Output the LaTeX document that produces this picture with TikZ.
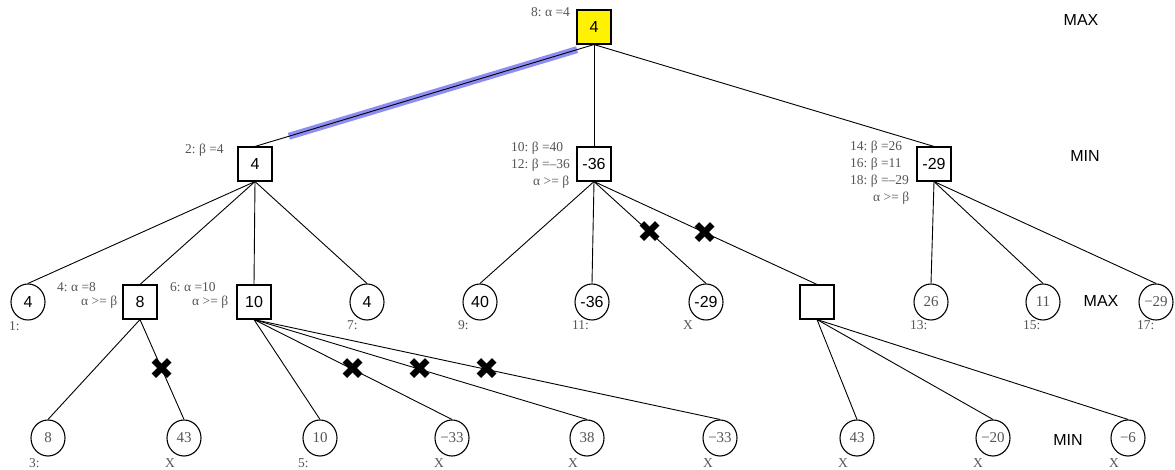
\documentclass[tikz,border=0pt]{standalone}
\usepackage{fontspec}
\setmainfont{Liberation Serif}
\newfontfamily\sansf{Liberation Sans}
\newfontfamily\symf{DejaVu Sans}
\usetikzlibrary{shapes.geometric}
\definecolor{labgray}{HTML}{555555}
\definecolor{hlblue}{HTML}{7070F0}
\begin{document}
\begin{tikzpicture}[x=1pt,y=-1pt,
  boxn/.style={draw, line width=1.1pt, minimum size=34pt, inner sep=0pt, font=\sansf\fontsize{16}{18}\selectfont},
  circs/.style={draw, ellipse, line width=1.1pt, minimum width=34pt, minimum height=36pt, inner sep=0pt, font=\sansf\fontsize{16}{18}\selectfont},
  circr/.style={circs, text=labgray, font=\fontsize{15}{17}\selectfont},
  lbl/.style={anchor=west, inner sep=0pt, text=labgray, font=\fontsize{13.5}{15}\selectfont},
  lvl/.style={inner sep=0pt, font=\sansf\fontsize{16}{18}\selectfont},
  edge/.style={line width=0.9pt},
  hl/.style={line width=7pt, draw=hlblue, opacity=0.8},
  cut/.style={inner sep=0pt, font=\symf\fontsize{30}{30}\selectfont}
]
\useasboundingbox (0,0) rectangle (1175,470);
% level labels
\node[lvl] (t0) at (1081,20) {MAX};
\node[lvl] (t1) at (1085,156) {MIN};
\node[lvl] (t2) at (1101,301) {MAX};
\node[lvl] (t3) at (1068,440) {MIN};
% nodes
\node[boxn, fill=yellow] (root) at (594,27) {4};
\node[boxn] (n2) at (255,164) {4};
\node[boxn] (n10) at (594,164) {-36};
\node[boxn] (n14) at (934,164) {-29};
\node[circs] (c1) at (28,302) {4};
\node[boxn] (b4) at (140,302) {8};
\node[boxn] (b6) at (254,302) {10};
\node[circs] (c7) at (367,302) {4};
\node[circs] (c9) at (480,302) {40};
\node[circs] (c11) at (592,302) {-36};
\node[circs] (cX) at (706,302) {-29};
\node[boxn] (bE) at (817,302) {};
\node[circr] (c13) at (931,302) {26};
\node[circr] (c15) at (1043,302) {11};
\node[circr] (c17) at (1156,302) {−29};
\node[circr] (l3) at (48,438) {8};
\node[circr] (l43a) at (184,438) {43};
\node[circr] (l5) at (320,438) {10};
\node[circr] (l33a) at (452,438) {−33};
\node[circr] (l38) at (587,438) {38};
\node[circr] (l33b) at (720,438) {−33};
\node[circr] (l43b) at (857,438) {43};
\node[circr] (l20) at (993,438) {−20};
\node[circr] (l6) at (1128,438) {−6};
% highlight
\path (root.south) -- coordinate[pos=0.05] (hb1) coordinate[pos=0.9] (hb2) (n2.north);
\draw[hl] (hb1) -- (hb2);
% edges
\draw[edge] (root.south) -- (n2.north);
\draw[edge] (root.south) -- (n10.north);
\draw[edge] (root.south) -- (n14.north);
\draw[edge] (n2.south) -- (c1.north);
\draw[edge] (n2.south) -- (b4.north);
\draw[edge] (n2.south) -- (b6.north);
\draw[edge] (n2.south) -- (c7.north);
\draw[edge] (n10.south) -- (c9.north);
\draw[edge] (n10.south) -- (c11.north);
\draw[edge] (n10.south) -- node[cut] (x1) {✖} (cX.north);
\draw[edge] (n10.south) -- node[cut] (x2) {✖} (bE.north);
\draw[edge] (n14.south) -- (c13.north);
\draw[edge] (n14.south) -- (c15.north);
\draw[edge] (n14.south) -- (c17.north);
\draw[edge] (b4.south) -- (l3.north);
\draw[edge] (b4.south) -- node[cut] (x3) {✖} (l43a.north);
\draw[edge] (b6.south) -- (l5.north);
\draw[edge] (b6.south) -- node[cut] (x4) {✖} (l33a.north);
\draw[edge] (b6.south) -- node[cut] (x5) {✖} (l38.north);
\draw[edge] (b6.south) -- node[cut] (x6) {✖} (l33b.north);
\draw[edge] (bE.south) -- (l43b.north);
\draw[edge] (bE.south) -- (l20.north);
\draw[edge] (bE.south) -- (l6.north);
% annotations
\node[lbl] (a8) at (531,12) {8:\ α =4};
\node[lbl] (a2) at (185,150) {2:\ β =4};
\node[lbl] (a10) at (511,148) {10:\ β =40};
\node[lbl] (a12) at (511,165) {12:\ β =–36};
\node[lbl] (a12b) at (533,182) {α >= β};
\node[lbl] (a14) at (850,147) {14:\ β =26};
\node[lbl] (a16) at (850,164) {16:\ β =11};
\node[lbl] (a18) at (850,181) {18:\ β =–29};
\node[lbl] (a18b) at (873,198) {α >= β};
\node[lbl] (a4) at (57,287) {4:\ α =8};
\node[lbl] (a4b) at (81,302) {α >= β};
\node[lbl] (a6) at (170,287) {6:\ α =10};
\node[lbl] (a6b) at (192,302) {α >= β};
% order labels
\node[lbl] (o1) at (9,326) {1:};
\node[lbl] (o7) at (347,325) {7:};
\node[lbl] (o9) at (458,325) {9:};
\node[lbl] (o11) at (572,325) {11:};
\node[lbl] (oX) at (683,325) {X};
\node[lbl] (o13) at (910,325) {13:};
\node[lbl] (o15) at (1023,325) {15:};
\node[lbl] (o17) at (1137,325) {17:};
\node[lbl] (p3) at (29,463) {3:};
\node[lbl] (p43a) at (165,463) {X};
\node[lbl] (p5) at (298,463) {5:};
\node[lbl] (p33a) at (434,463) {X};
\node[lbl] (p38) at (568,463) {X};
\node[lbl] (p33b) at (703,463) {X};
\node[lbl] (p43b) at (838,463) {X};
\node[lbl] (p20) at (973,463) {X};
\node[lbl] (p6) at (1109,463) {X};
\end{tikzpicture}
\end{document}
